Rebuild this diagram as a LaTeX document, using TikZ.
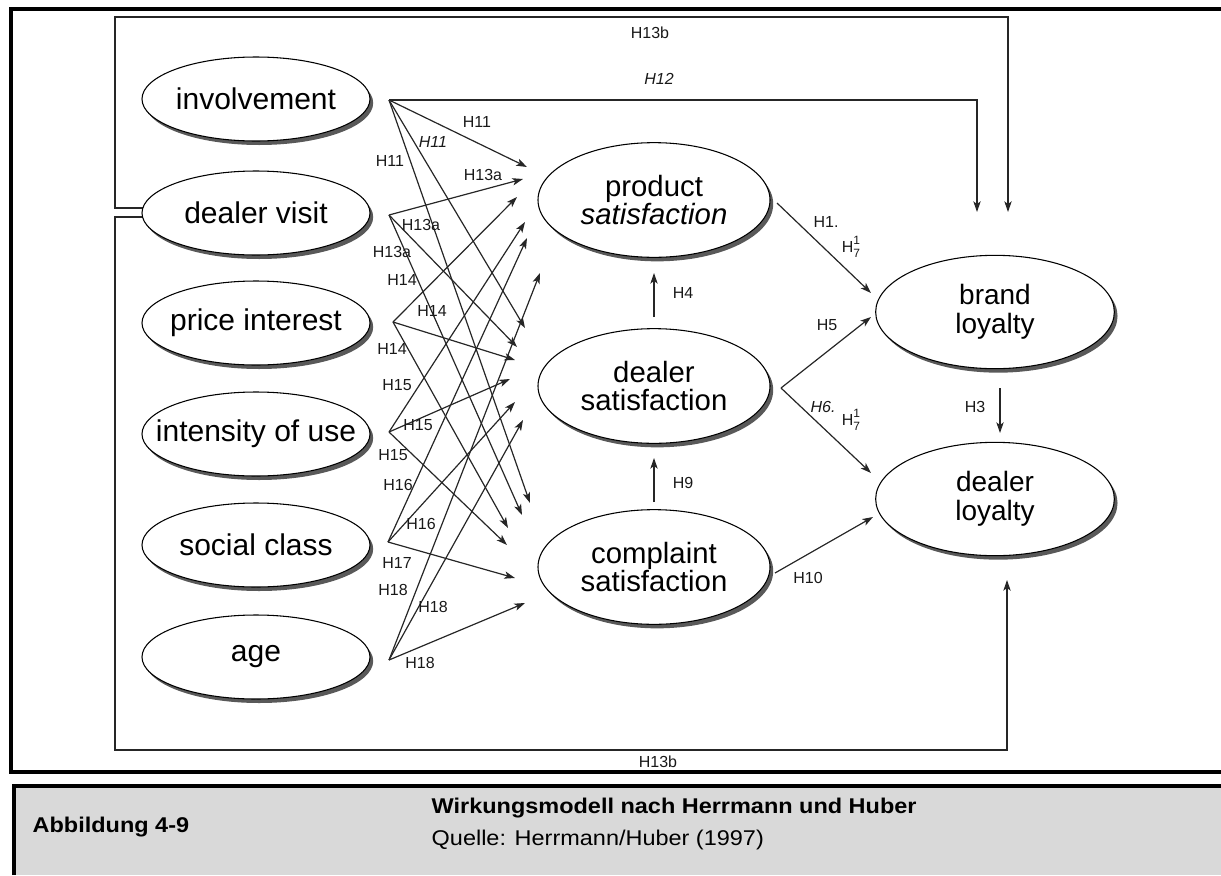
\documentclass[tikz,border=0pt]{standalone}
\usepackage{fontspec}
\setmainfont{Liberation Sans}
\newfontfamily\capfont[FakeStretch=1.1]{Liberation Sans}
\usetikzlibrary{arrows.meta,shapes.geometric,shadows}

% text of zero width, so the ellipse keeps its set size
\newcommand\zerow[1]{\makebox[0pt]{#1}}
% H with stacked index 1 over 7
\newcommand\Hsevenone{H\rlap{\raisebox{1.0ex}{\fontsize{9}{9}\selectfont 1}}\raisebox{-0.6ex}{\fontsize{9}{9}\selectfont 7}}

\begin{document}
\begin{tikzpicture}[x=0.75pt,y=-0.75pt,
  conn/.style={line width=0.9pt, draw=black!85},
  arr/.style={conn, -{Stealth[length=8pt,width=5.5pt,inset=2pt]}},
  var/.style={ellipse, draw=black, line width=0.8pt, fill=white, inner sep=0pt,
    drop shadow={shadow xshift=2.4pt, shadow yshift=-3pt, fill=black!65, opacity=1}},
  leftvar/.style={var, minimum width=171pt, minimum height=63pt,
    font=\fontsize{22.5}{24}\selectfont},
  midvar/.style={var, minimum width=174pt, minimum height=86pt, align=center,
    font=\fontsize{22}{20.5}\selectfont},
  rightvar/.style={var, minimum width=179pt, minimum height=85pt, align=center,
    font=\fontsize{21}{21.5}\selectfont},
  hyp/.style={font=\fontsize{12}{12}\selectfont, inner sep=0.5pt, text=black!90},
  hypit/.style={hyp, font=\itshape\fontsize{12}{12}\selectfont},
  capbold/.style={anchor=base west, font=\capfont\bfseries\fontsize{16}{18}\selectfont},
  capnorm/.style={anchor=base west, font=\capfont\fontsize{16}{18}\selectfont},
]
\useasboundingbox (0,0) rectangle (1221,875);

% ---------- outer frame and caption panel ----------
\draw[line width=2.6pt] (1221,9) -- (11,9) -- (11,772) -- (1221,772);
\fill[black!15] (14,786) rectangle (1221,875);
\draw[line width=2.4pt] (14,875) -- (14,786) -- (1221,786);
\node[capbold] (capnum) at (28,832) {Abbildung 4-9};
\node[capbold] (captitle) at (427,813) {Wirkungsmodell nach Herrmann und Huber};
\node[capnorm] (capsrc) at (427,845) {Quelle: Herrmann/Huber (1997)};

% ---------- start points of the antecedent arrows ----------
\coordinate (s1) at (389,100);
\coordinate (s2) at (389,215);
\coordinate (s3) at (393,322);
\coordinate (s4) at (389,432);
\coordinate (s5) at (388,542);
\coordinate (s6) at (389,660);

% arrow tips at product satisfaction
\coordinate (p1) at (527,167);
\coordinate (p2) at (523,179);
\coordinate (p3) at (517,197);
\coordinate (p4) at (525,222);
\coordinate (p5) at (527,238);
\coordinate (p6) at (540,273);
% arrow tips at dealer satisfaction
\coordinate (d1) at (525,328);
\coordinate (d2) at (517,347);
\coordinate (d3) at (515,360);
\coordinate (d4) at (510,379);
\coordinate (d5) at (515,402);
\coordinate (d6) at (523,420);
% arrow tips at complaint satisfaction
\coordinate (c1) at (530,503);
\coordinate (c2) at (522,515);
\coordinate (c3) at (508,528);
\coordinate (c4) at (507,545);
\coordinate (c5) at (515,578);
\coordinate (c6) at (525,603);

% ---------- long feedback paths (H12, H13b) ----------
\coordinate (dvw1) at (143,208);
\coordinate (dvw2) at (143,217);
\coordinate (blt1) at (977,212);
\coordinate (blt2) at (1008,212);
\coordinate (dlb) at (1007,580);

\draw[arr] (s1) -- (977,100) -- (blt1);
\draw[arr] (dvw1) -- (115,208) -- (115,17) -- (1008,17) -- (blt2);
\draw[arr] (dvw2) -- (115,217) -- (115,750) -- (1007,750) -- (dlb);
\node[hyp] (h13btop) at (650,33) {H13b};
\node[hypit] (h12) at (659,79) {H12};
\node[hyp] (h13bbot) at (658,762) {H13b};

% ---------- antecedents -> satisfaction ----------
\foreach \s in {1,...,6}{
  \draw[arr] (s\s) -- (p\s);
  \draw[arr] (s\s) -- (d\s);
  \draw[arr] (s\s) -- (c\s);
}

\node[hyp] (l11a) at (477,122) {H11};
\node[hypit] (l11b) at (433,142) {H11};
\node[hyp] (l11c) at (390,161) {H11};
\node[hyp] (l13a) at (483,175) {H13a};
\node[hyp] (l13b) at (421,225) {H13a};
\node[hyp] (l13c) at (392,252) {H13a};
\node[hyp] (l14a) at (402,280) {H14};
\node[hyp] (l14b) at (432,311) {H14};
\node[hyp] (l14c) at (392,349) {H14};
\node[hyp] (l15a) at (397,385) {H15};
\node[hyp] (l15b) at (418,425) {H15};
\node[hyp] (l15c) at (393,455) {H15};
\node[hyp] (l16a) at (398,485) {H16};
\node[hyp] (l16b) at (421,524) {H16};
\node[hyp] (l17) at (397,563) {H17};
\node[hyp] (l18a) at (393,590) {H18};
\node[hyp] (l18b) at (433,607) {H18};
\node[hyp] (l18c) at (420,663) {H18};

% ---------- construct ellipses ----------
\node[leftvar] (inv) at (256,99) {\zerow{involvement}};
\node[leftvar] (dv) at (256,213) {\zerow{dealer visit}};
\node[leftvar] (pi) at (256,323) {\zerow{price interest}};
\node[leftvar] (iu) at (256,434) {\zerow{intensity of use}};
\node[leftvar] (sc) at (256,545) {\zerow{social class}};
\node[leftvar] (age) at (256,657) {\zerow{age}};

\node[midvar] (ps) at (654,200) {\zerow{product}\\\zerow{\itshape satisfaction}};
\node[midvar] (ds) at (654,386) {\zerow{dealer}\\\zerow{satisfaction}};
\node[midvar] (cs) at (654,567) {\zerow{complaint}\\\zerow{satisfaction}};

\node[rightvar] (bl) at (995,312) {\zerow{brand}\\\zerow{loyalty}};
\node[rightvar] (dl) at (995,499) {\zerow{dealer}\\\zerow{loyalty}};

% ---------- satisfaction -> loyalty ----------
\coordinate (psout) at (777,203);
\coordinate (dsout) at (781,388);
\coordinate (csout) at (775,573);
\coordinate (blin1) at (871,293);
\coordinate (blin2) at (871,317);
\coordinate (dlin1) at (871,473);
\coordinate (dlin2) at (873,517);
\coordinate (dsup) at (654,317);
\coordinate (psdown) at (654,273);
\coordinate (csup) at (654,502);
\coordinate (dsdown) at (654,458);
\coordinate (bldown) at (1000,388);
\coordinate (dlup) at (1000,433);

\draw[arr] (psout) -- (blin1);
\draw[arr] (dsout) -- (blin2);
\draw[arr] (dsout) -- (dlin1);
\draw[arr] (csout) -- (dlin2);
\draw[arr] (dsup) -- (psdown);
\draw[arr] (csup) -- (dsdown);
\draw[arr] (bldown) -- (dlup);

\node[hyp] (h1) at (826,222) {H1.};
\node[hyp] (h7a) at (851,247) {\Hsevenone};
\node[hyp] (h4) at (683,293) {H4};
\node[hyp] (h9) at (683,483) {H9};
\node[hyp] (h5) at (827,325) {H5};
\node[hypit] (h6) at (823,407) {H6.};
\node[hyp] (h7b) at (851,420) {\Hsevenone};
\node[hyp] (h3) at (975,407) {H3};
\node[hyp] (h10) at (808,578) {H10};
\end{tikzpicture}
\end{document}
